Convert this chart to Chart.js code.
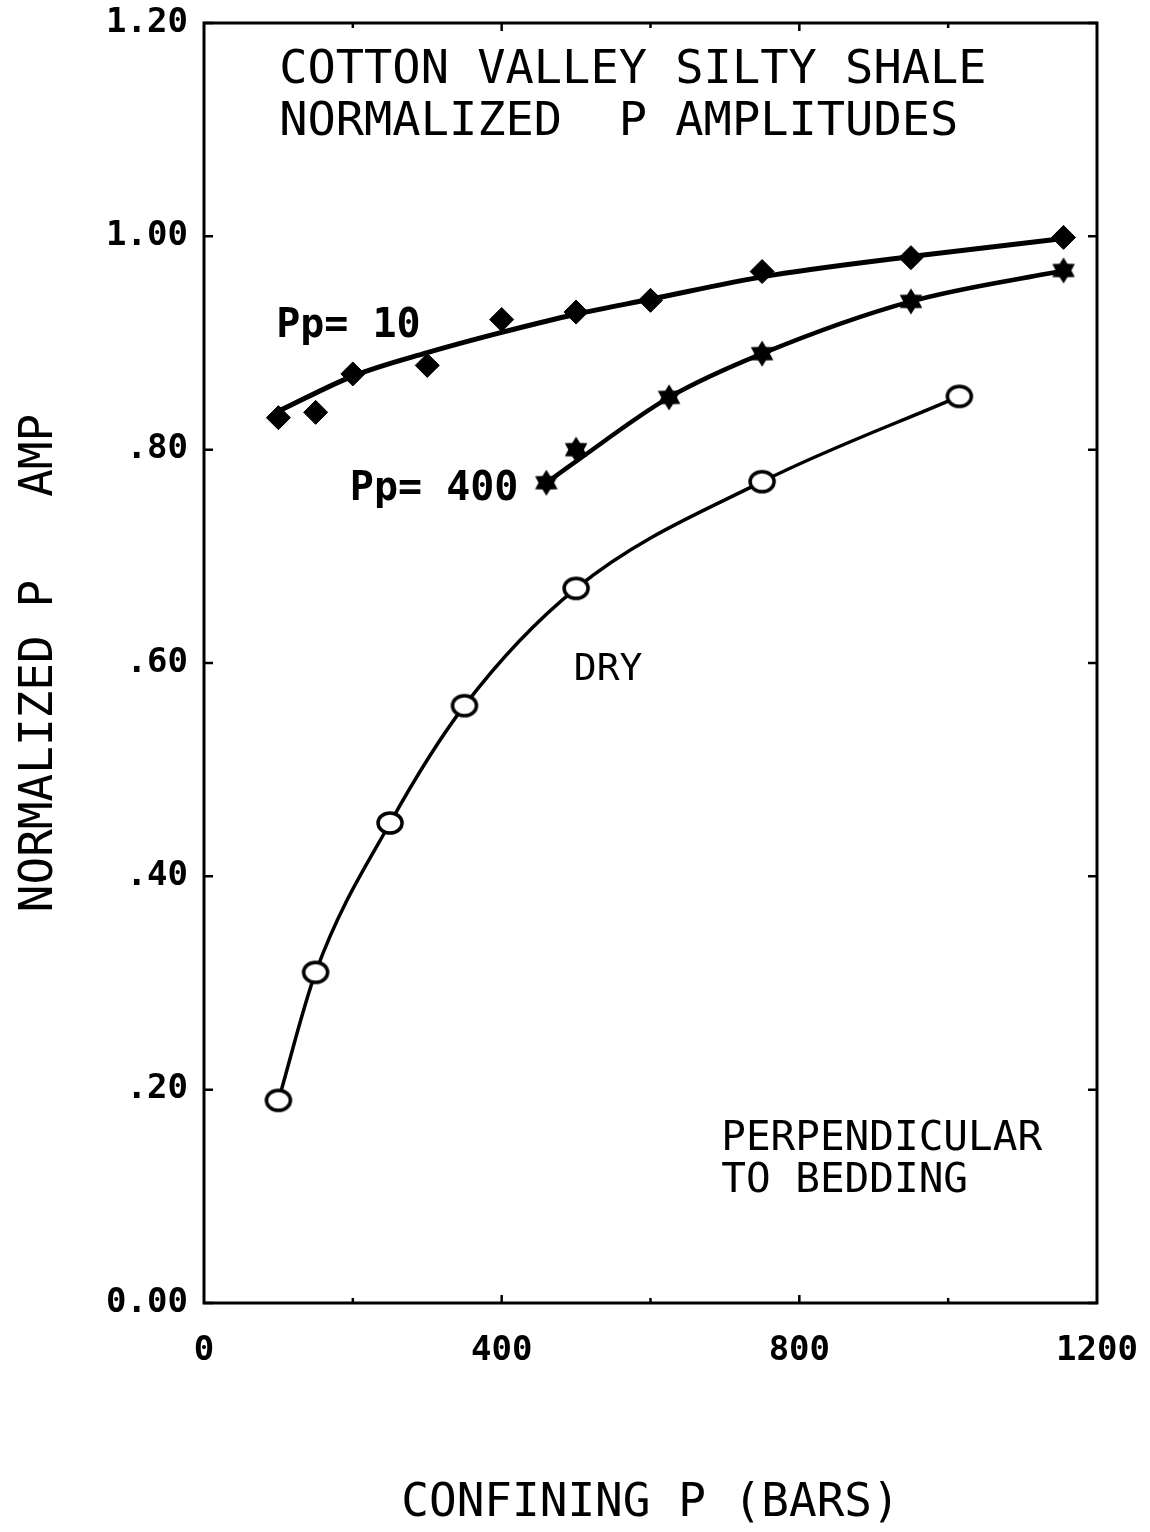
<!DOCTYPE html>
<html>
<head>
<meta charset="utf-8">
<title>Cotton Valley Silty Shale - Normalized P Amplitudes</title>
<style>
  html, body { margin: 0; padding: 0; background: #fff; }
</style>
</head>
<body>
<canvas id="myChart" width="1150" height="1532"></canvas>
<script src="https://cdn.jsdelivr.net/npm/chart.js@4.4.1/dist/chart.umd.min.js"></script>
<script>
'use strict';

/*          DATA          */
// Pp = 10 measurements (confining pressure in bars, normalized amplitude)
const pp10Pressure = [100, 150, 200, 300, 400, 500, 600, 750, 950, 1155];
const pp10Amp = [0.83, 0.835, 0.871, 0.879, 0.922, 0.929, 0.940, 0.967, 0.980, 0.999];
// smoothed curve drawn through the Pp = 10 points
const pp10FitPressure = [100, 200, 300, 400, 500, 600, 750, 950, 1155];
const pp10FitAmp = [0.836, 0.869, 0.891, 0.910, 0.927, 0.941, 0.962, 0.981, 0.998];
// Pp = 400 measurements
const pp400Pressure = [460, 500, 625, 750, 950, 1155];
const pp400Amp = [0.769, 0.80, 0.849, 0.89, 0.939, 0.968];
// smoothed curve drawn through the Pp = 400 points
const pp400FitPressure = [460, 500, 625, 750, 950, 1155];
const pp400FitAmp = [0.769, 0.789, 0.849, 0.89, 0.939, 0.968];
// dry sample
const dryPressure = [100, 150, 250, 350, 500, 750, 1015];
const dryAmp = [0.19, 0.31, 0.45, 0.56, 0.67, 0.77, 0.85];

// axis tick labels
const yTicks = [0, 0.2, 0.4, 0.6, 0.8, 1.0, 1.2];
const yTickLabels = ['0.00', '.20', '.40', '.60', '.80', '1.00', '1.20'];
const xTicks = [0, 400, 800, 1200];
const xTickLabels = ['0', '400', '800', '1200'];

const FONT = '"DejaVu Sans Mono", "Liberation Mono", monospace';


/*          HELPERS          */
// zip two arrays into {x, y} points
function toPoints(xs, ys) {
  return xs.map((x, i) => ({ x: x, y: ys[i] }));
}

// find a label for a tick value, '' when the tick has no label
function labelFor(value, ticks, labels) {
  for (let i = 0; i < ticks.length; i++) {
    if (Math.abs(ticks[i] - value) < 1e-6) {
      return labels[i];
    }
  }
  return '';
}

// filled six pointed star marker
function makeStar(radius) {
  const size = radius * 2 + 4;
  const c = document.createElement('canvas');
  c.width = size;
  c.height = size;
  const ctx = c.getContext('2d');
  ctx.translate(size / 2, size / 2);
  ctx.beginPath();
  for (let i = 0; i < 12; i++) {
    let r = i % 2 === 0 ? radius : radius * 0.6;
    let a = -Math.PI / 2 + i * Math.PI / 6;
    ctx.lineTo(r * Math.cos(a), r * Math.sin(a));
  }
  ctx.closePath();
  ctx.fillStyle = '#000';
  ctx.fill();
  return c;
}

// open, slightly flattened circle marker
function makeRing(rx, ry, lw) {
  const w = Math.ceil(rx * 2 + lw + 2);
  const h = Math.ceil(ry * 2 + lw + 2);
  const c = document.createElement('canvas');
  c.width = w;
  c.height = h;
  const ctx = c.getContext('2d');
  ctx.beginPath();
  ctx.ellipse(w / 2, h / 2, rx, ry, 0, 0, Math.PI * 2);
  ctx.fillStyle = '#fff';
  ctx.fill();
  ctx.lineWidth = lw;
  ctx.strokeStyle = '#000';
  ctx.stroke();
  return c;
}

// fixed axis box; drop the extra room chart.js keeps for end labels
function fixBox(size) {
  return (scale) => {
    if (scale.isHorizontal()) {
      scale.height = size;
    } else {
      scale.width = size;
    }
    scale.paddingTop = 0;
    scale.paddingBottom = 0;
    scale.paddingLeft = 0;
    scale.paddingRight = 0;
  };
}


/*          PLUGINS          */
// box around the plot with inward tick marks on all four sides
const framePlugin = {
  id: 'frame',
  afterDatasetsDraw(chart) {
    const { ctx, chartArea: a, scales } = chart;
    ctx.save();
    ctx.strokeStyle = '#000';
    ctx.lineWidth = 3;
    ctx.strokeRect(a.left, a.top, a.right - a.left, a.bottom - a.top);
    ctx.lineWidth = 2.5;
    ctx.beginPath();
    for (let v of yTicks) {
      let py = scales.y.getPixelForValue(v);
      ctx.moveTo(a.left, py);
      ctx.lineTo(a.left + 9, py);
      ctx.moveTo(a.right, py);
      ctx.lineTo(a.right - 9, py);
    }
    for (let v = 200; v < 1200; v += 200) {
      let px = scales.x.getPixelForValue(v);
      let len = v % 400 === 0 ? 8 : 5;
      ctx.moveTo(px, a.bottom);
      ctx.lineTo(px, a.bottom - len);
      ctx.moveTo(px, a.top);
      ctx.lineTo(px, a.top + len);
    }
    ctx.stroke();
    ctx.restore();
  }
};

// text written inside the plot, placed in data units (left edge, baseline)
const notes = [
  { text: 'COTTON VALLEY SILTY SHALE', x: 101, y: 1.144, size: 47, bold: false },
  { text: 'NORMALIZED  P AMPLITUDES', x: 101, y: 1.095, size: 47, bold: false },
  { text: 'Pp= 10', x: 97, y: 0.906, size: 40, bold: true },
  { text: 'Pp= 400', x: 196, y: 0.753, size: 40, bold: true },
  { text: 'DRY', x: 497, y: 0.584, size: 38, bold: false },
  { text: 'PERPENDICULAR', x: 695, y: 0.143, size: 41, bold: false },
  { text: 'TO BEDDING', x: 695, y: 0.104, size: 41, bold: false }
];

const notesPlugin = {
  id: 'notes',
  afterDraw(chart) {
    const { ctx, scales } = chart;
    ctx.save();
    ctx.fillStyle = '#000';
    ctx.textAlign = 'left';
    ctx.textBaseline = 'alphabetic';
    for (let n of notes) {
      ctx.font = (n.bold ? 'bold ' : '') + n.size + 'px ' + FONT;
      ctx.fillText(n.text, scales.x.getPixelForValue(n.x), scales.y.getPixelForValue(n.y));
    }
    ctx.restore();
  }
};


/*          CHART          */
Chart.defaults.font.family = FONT;
Chart.defaults.color = '#000';

const data = {
  datasets: [
    {
      // Pp = 10 markers
      data: toPoints(pp10Pressure, pp10Amp),
      showLine: false,
      pointStyle: 'rectRot',
      pointRadius: 12,
      pointBackgroundColor: '#000',
      pointBorderColor: '#000',
      pointBorderWidth: 1
    },
    {
      // Pp = 10 smooth curve
      data: toPoints(pp10FitPressure, pp10FitAmp),
      showLine: true,
      cubicInterpolationMode: 'monotone',
      borderColor: '#000',
      borderWidth: 5,
      pointRadius: 0
    },
    {
      // Pp = 400 markers
      data: toPoints(pp400Pressure, pp400Amp),
      showLine: false,
      pointStyle: makeStar(13),
      pointRadius: 13
    },
    {
      // Pp = 400 smooth curve
      data: toPoints(pp400FitPressure, pp400FitAmp),
      showLine: true,
      cubicInterpolationMode: 'monotone',
      borderColor: '#000',
      borderWidth: 4.5,
      pointRadius: 0
    },
    {
      // dry
      data: toPoints(dryPressure, dryAmp),
      showLine: true,
      cubicInterpolationMode: 'monotone',
      borderColor: '#000',
      borderWidth: 3.5,
      pointStyle: makeRing(12, 10, 3.5),
      pointRadius: 12
    }
  ]
};

const config = {
  type: 'scatter',
  data: data,
  options: {
    responsive: false,
    animation: false,
    events: [],
    layout: {
      padding: { left: 0, right: 53, top: 23, bottom: 0 }
    },
    plugins: {
      legend: { display: false },
      tooltip: { enabled: false }
    },
    scales: {
      x: {
        type: 'linear',
        min: 0,
        max: 1200,
        afterFit: fixBox(229),
        grid: { display: false, drawTicks: false },
        border: { display: false },
        ticks: {
          stepSize: 200,
          padding: 28,
          maxRotation: 0,
          autoSkip: false,
          font: { size: 34, weight: 'bold' },
          callback: (value) => labelFor(value, xTicks, xTickLabels)
        },
        title: {
          display: true,
          text: 'CONFINING P (BARS)',
          font: { size: 46 },
          padding: { top: 0, bottom: 0 }
        }
      },
      y: {
        min: 0,
        max: 1.2,
        afterFit: fixBox(204),
        grid: { display: false, drawTicks: false },
        border: { display: false },
        ticks: {
          stepSize: 0.2,
          padding: 16,
          autoSkip: false,
          font: { size: 34, weight: 'bold' },
          callback: (value) => labelFor(value, yTicks, yTickLabels)
        },
        title: {
          display: true,
          text: 'NORMALIZED P   AMP',
          font: { size: 46 },
          padding: { top: 12, bottom: 0 }
        }
      }
    }
  },
  plugins: [framePlugin, notesPlugin]
};

const myChart = new Chart(document.getElementById('myChart'), config);
</script>
</body>
</html>
